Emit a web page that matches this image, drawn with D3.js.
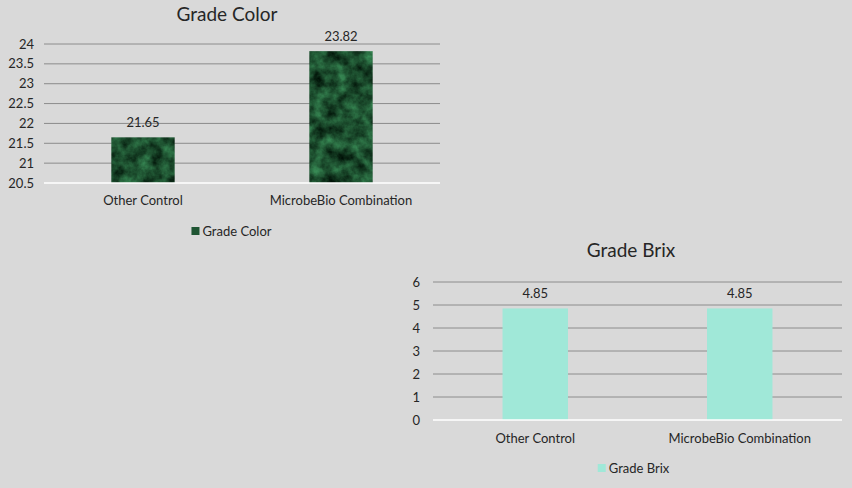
<!DOCTYPE html>
<html>
<head>
<meta charset="utf-8">
<script src="https://cdn.jsdelivr.net/npm/d3@7"></script>
<style>
  html, body { margin: 0; padding: 0; background: #d9d9d9; }
  svg { display: block; font-family: Lato, "Open Sans", sans-serif; }
</style>
</head>
<body>
<svg id="chart" width="852" height="488"></svg>
<script>
// data
const categories  = ["Other Control", "MicrobeBio Combination"];
const colorValues = [21.65, 23.82];
const colorTicks  = [20.5, 21, 21.5, 22, 22.5, 23, 23.5, 24];
const brixValues  = [4.85, 4.85];
const brixTicks   = [0, 1, 2, 3, 4, 5, 6];

const svg = d3.select("#chart");
const defs = svg.append("defs");

// marble-like dark green texture for the first chart (procedural, no random data)
const filt = defs.append("filter")
  .attr("id", "marble")
  .attr("color-interpolation-filters", "sRGB")
  .attr("x", 0).attr("y", 0).attr("width", 1).attr("height", 1);
filt.append("feTurbulence")
  .attr("type", "fractalNoise")
  .attr("baseFrequency", 0.08)
  .attr("numOctaves", 4)
  .attr("seed", 7)
  .attr("result", "noise");
filt.append("feColorMatrix")
  .attr("in", "noise")
  .attr("type", "matrix")
  .attr("values", "0.3 0 0 0 -0.04  0.65 0 0 0 -0.02  0.42 0 0 0 -0.03  0 0 0 0 1")
  .attr("result", "green");
filt.append("feComposite")
  .attr("in", "green").attr("in2", "SourceGraphic").attr("operator", "in");

function drawChart(opts) {
  const {x0, x1, yTop, yBottom, title, titleX, titleY, values, ticks, fill, filter,
         catY, legendX, legendY, legendName, tickX} = opts;

  const g = svg.append("g");

  const x = d3.scaleBand().domain(categories).range([x0, x1]).paddingInner(0.68).paddingOuter(0.34);
  const y = d3.scaleLinear().domain([ticks[0], ticks[ticks.length - 1]]).range([yBottom, yTop]);

  // gridlines
  g.selectAll(".grid").data(ticks.slice(1)).enter().append("line")
    .attr("x1", x0).attr("x2", x1)
    .attr("y1", d => y(d)).attr("y2", d => y(d))
    .attr("stroke", "#8c8c8c").attr("stroke-width", 1);

  // y tick labels
  g.selectAll(".ytick").data(ticks).enter().append("text")
    .attr("x", tickX).attr("y", d => y(d) + 4.5)
    .attr("text-anchor", "end")
    .attr("font-size", 13).attr("fill", "#262626")
    .text(d => d);

  // bars
  g.selectAll(".bar").data(values).enter().append("rect")
    .attr("x", (d, i) => x(categories[i]))
    .attr("width", x.bandwidth())
    .attr("y", d => y(d))
    .attr("height", d => yBottom - y(d))
    .attr("fill", fill)
    .attr("filter", filter || null);

  // baseline
  g.append("line")
    .attr("x1", x0).attr("x2", x1)
    .attr("y1", yBottom).attr("y2", yBottom)
    .attr("stroke", "#ffffff").attr("stroke-width", 1.5);

  // value labels
  g.selectAll(".val").data(values).enter().append("text")
    .attr("x", (d, i) => x(categories[i]) + x.bandwidth() / 2)
    .attr("y", d => y(d) - 10)
    .attr("text-anchor", "middle")
    .attr("font-size", 13).attr("fill", "#262626")
    .text(d => d);

  // category labels
  g.selectAll(".cat").data(categories).enter().append("text")
    .attr("x", d => x(d) + x.bandwidth() / 2)
    .attr("y", catY)
    .attr("text-anchor", "middle")
    .attr("font-size", 13).attr("fill", "#262626")
    .text(d => d);

  // title
  g.append("text")
    .attr("x", titleX).attr("y", titleY)
    .attr("text-anchor", "middle")
    .attr("font-size", 19).attr("fill", "#262626")
    .text(title);

  // legend
  const lg = g.append("g").attr("transform", `translate(${legendX},${legendY})`);
  const lt = lg.append("text")
    .attr("x", 0).attr("y", 4.5)
    .attr("text-anchor", "middle")
    .attr("font-size", 13).attr("fill", "#262626")
    .text(legendName);
  const w = lt.node().getComputedTextLength();
  lt.attr("x", 6);
  lg.append("rect")
    .attr("x", 6 - w / 2 - 11).attr("y", -4)
    .attr("width", 8).attr("height", 8)
    .attr("fill", opts.legendFill);
}

drawChart({
  x0: 44, x1: 440, yTop: 44, yBottom: 183,
  title: "Grade Color", titleX: 227, titleY: 21,
  values: colorValues, ticks: colorTicks,
  fill: "#1d5a35", filter: "url(#marble)", legendFill: "#1f5533",
  catY: 205, legendX: 231, legendY: 231, legendName: "Grade Color", tickX: 34
});

drawChart({
  x0: 433, x1: 842, yTop: 282, yBottom: 420,
  title: "Grade Brix", titleX: 631, titleY: 257,
  values: brixValues, ticks: brixTicks,
  fill: "#a0e8d8", legendFill: "#a0e8d8",
  catY: 443, legendX: 633, legendY: 468, legendName: "Grade Brix", tickX: 420
});
</script>
</body>
</html>
